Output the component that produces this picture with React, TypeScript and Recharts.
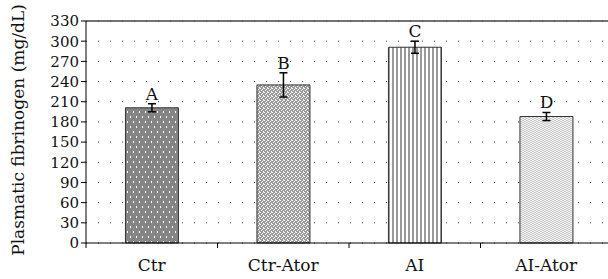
import React from "react";
import {
  BarChart,
  Bar,
  XAxis,
  YAxis,
  CartesianGrid,
  ErrorBar,
  Cell,
  LabelList,
  ReferenceLine,
} from "recharts";

const groups = ["Ctr", "Ctr-Ator", "AI", "AI-Ator"];
const means = [201, 235, 291, 188];
const errors = [6, 18, 9, 6];
const letters = ["A", "B", "C", "D"];
const yTicks = [0, 30, 60, 90, 120, 150, 180, 210, 240, 270, 300, 330];
const fills = ["url(#pCtr)", "url(#pCtrAtor)", "url(#pAI)", "url(#pAIAtor)"];

const CHART_W = 614;
const CHART_H = 279;
const Y_AXIS_W = 86;
const MARGIN = { top: 21, right: 2, left: 0, bottom: 0 };
const BAND = (CHART_W - Y_AXIS_W - MARGIN.left - MARGIN.right) / groups.length;

const FONT = "'DejaVu Serif', serif";

const data = groups.map((g, i) => ({
  name: g,
  mean: means[i],
  err: errors[i],
  letter: letters[i],
}));

const XTick = (props: any) => {
  const { x, y, payload } = props;
  return (
    <g>
      <line x1={x - BAND / 2} y1={y - 7} x2={x - BAND / 2} y2={y - 2} stroke="#000" />
      <text x={x} y={y} dy={21} textAnchor="middle" fontSize={17} fontFamily={FONT} fill="#111">
        {payload.value}
      </text>
    </g>
  );
};

const LetterLabel = (props: any) => {
  const { x, y, width, height, index } = props;
  const v = means[index];
  const pxPerUnit = height / v;
  const top = y - errors[index] * pxPerUnit;
  return (
    <text
      x={x + width / 2}
      y={top - 4}
      textAnchor="middle"
      fontSize={17}
      fontFamily={FONT}
      fill="#111"
    >
      {letters[index]}
    </text>
  );
};

const App = () => {
  return (
    <div
      style={{
        position: "absolute",
        left: 0,
        top: 0,
        width: 608,
        height: 279,
        overflow: "hidden",
        background: "#fff",
      }}
    >
      <BarChart
        width={CHART_W}
        height={CHART_H}
        data={data}
        margin={MARGIN}
        barCategoryGap="30%"
      >
        <defs>
          <pattern id="pCtr" width="6" height="10" patternUnits="userSpaceOnUse">
            <rect width="6" height="10" fill="#858585" />
            <rect x="1" y="1" width="1" height="2" fill="#fff" />
            <rect x="4" y="6" width="1" height="2" fill="#fff" />
          </pattern>
          <pattern id="pCtrAtor" width="4" height="4" patternUnits="userSpaceOnUse">
            <rect width="4" height="4" fill="#9a9a9a" />
            <rect x="0" y="0" width="1" height="1" fill="#fff" />
            <rect x="2" y="1" width="1" height="1" fill="#fff" />
            <rect x="1" y="2" width="1" height="1" fill="#fff" />
            <rect x="3" y="3" width="1" height="1" fill="#fff" />
            <rect x="3" y="0" width="1" height="1" fill="#e0e0e0" />
          </pattern>
          <pattern id="pAI" width="4" height="4" patternUnits="userSpaceOnUse">
            <rect width="4" height="4" fill="#fff" />
            <rect x="0" y="0" width="2" height="4" fill="#9a9a9a" />
          </pattern>
          <pattern id="pAIAtor" width="4" height="2" patternUnits="userSpaceOnUse">
            <rect width="4" height="2" fill="#c8c8c8" />
            <rect x="0" y="0" width="2" height="1" fill="#f4f4f4" />
            <rect x="2" y="1" width="2" height="1" fill="#f4f4f4" />
          </pattern>
        </defs>
        <CartesianGrid
          vertical={false}
          stroke="#333"
          strokeDasharray="1 11"
        />
        <XAxis
          dataKey="name"
          axisLine={{ stroke: "#000" }}
          tickLine={false}
          tickSize={5}
          tickMargin={2}
          height={36}
          tick={<XTick />}
          interval={0}
        />
        <YAxis
          type="number"
          domain={[0, 330]}
          ticks={yTicks}
          width={Y_AXIS_W}
          interval={0}
          axisLine={{ stroke: "#000" }}
          tickLine={{ stroke: "#000" }}
          tickSize={5}
          tickMargin={2}
          tick={{ fontSize: 15, fontFamily: FONT, fill: "#111" }}
          label={{
            value: "Plasmatic fibrinogen (mg/dL)",
            angle: -90,
            position: "center",
            dx: -25,
            dy: -2,
            style: { fontSize: 17, fontFamily: FONT, fill: "#111" },
          }}
        />
        <ReferenceLine y={330} stroke="#444" strokeWidth={1.5} />
        <Bar dataKey="mean" stroke="#333" strokeWidth={1} isAnimationActive={false}>
          {data.map((d, i) => (
            <Cell key={d.name} fill={fills[i]} />
          ))}
          <ErrorBar dataKey="err" width={4} stroke="#000" strokeWidth={1.5} />
          <LabelList dataKey="letter" content={<LetterLabel />} />
        </Bar>
      </BarChart>
    </div>
  );
};

export default App;
